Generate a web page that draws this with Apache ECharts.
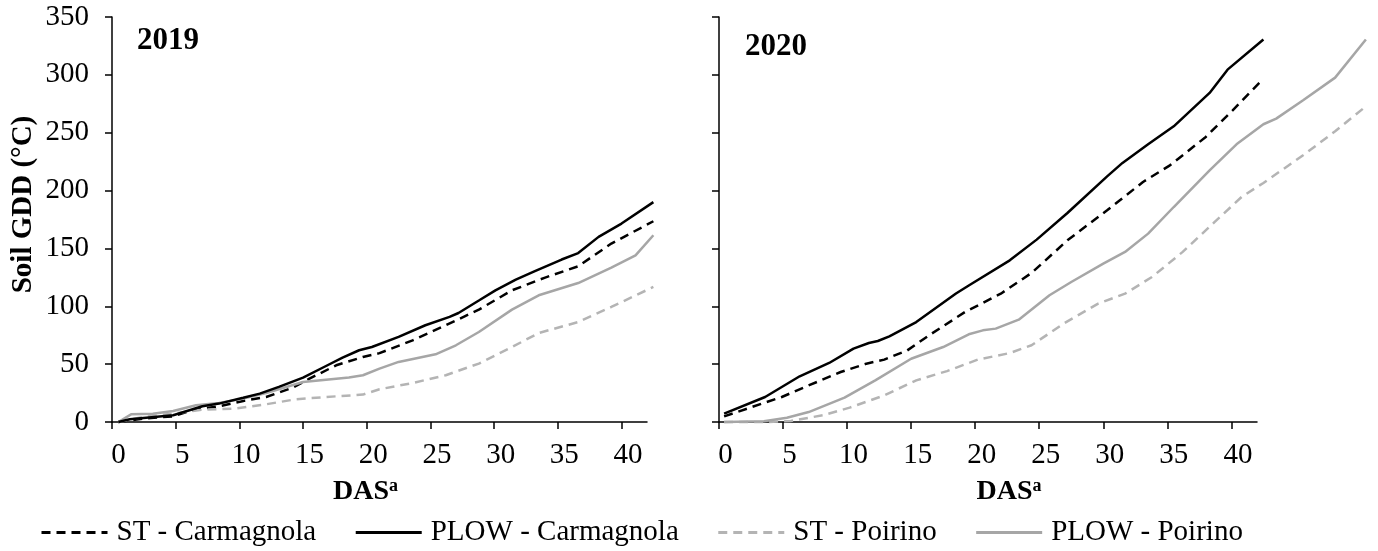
<!DOCTYPE html>
<html><head><meta charset="utf-8">
<script src="https://cdn.jsdelivr.net/npm/echarts@6/dist/echarts.min.js"></script>
<style>html,body{margin:0;padding:0;background:#fff}#c{width:1378px;height:551px}</style>
</head><body><div id="c"></div>
<script>
// ---- Data ----
const seriesNames = ['ST - Carmagnola', 'PLOW - Carmagnola', 'ST - Poirino', 'PLOW - Poirino'];
const panelTitles = ['2019', '2020'];
const xTickLabels = [0, 5, 10, 15, 20, 25, 30, 35, 40];
const yTickLabels = [0, 50, 100, 150, 200, 250, 300, 350];
const yAxisTitle = 'Soil GDD (°C)';
const xAxisTitle = 'DAS';
const xAxisSup = 'a';

// 2019
const stCarm2019Days = [0.5, 2.4, 4.8, 6.3, 8.4, 10.3, 12.1, 14.2, 15.5, 17.6, 19.7, 21.0, 23.6, 26.2, 28.8, 31.4, 34.0, 36.6, 39.2, 42.5];
const stCarm2019 = [0, 2.9, 4.9, 10.1, 13.6, 18.2, 21.6, 29.7, 37.5, 49, 56.2, 59.5, 70.6, 83.6, 97.1, 113.8, 124.8, 134.6, 154.2, 173.5];
const plowCarm2019Days = [0.5, 1.4, 4.8, 7.1, 8.4, 10.3, 11.6, 13.1, 15.0, 16.8, 18.1, 19.4, 20.4, 22.5, 24.6, 26.5, 27.2, 28.8, 30.1, 31.7, 33.2, 35.3, 36.6, 38.2, 40.0, 42.5];
const plowCarm2019 = [0, 2.3, 5.8, 13.6, 15.9, 21, 24.5, 30.3, 38.4, 48.4, 55.6, 62, 64.8, 73.5, 83.6, 90.8, 94.2, 105, 113.8, 123, 130.3, 140.4, 146, 160, 171.5, 190];
const stPoir2019Days = [0.5, 2.4, 4.8, 7.1, 9.7, 12.1, 14.4, 16.8, 19.7, 21.0, 23.6, 26.2, 28.8, 31.4, 33.5, 36.6, 39.2, 42.5];
const stPoir2019 = [0, 4.3, 7.2, 10.7, 11.6, 15.3, 19.6, 21.6, 23.7, 28.3, 33.7, 40.4, 50.5, 64.8, 76.9, 86.4, 99.4, 116.7];
const plowPoir2019Days = [0.5, 1.5, 3.2, 4.8, 6.6, 8.4, 10.3, 12.1, 15.0, 16.8, 18.6, 19.7, 21.0, 22.5, 25.4, 27.0, 28.8, 31.4, 33.5, 36.6, 39.2, 41.1, 42.5];
const plowPoir2019 = [0, 6.6, 7.2, 9.5, 14.4, 16.4, 20.2, 25.1, 34.6, 36.6, 38.4, 40.4, 46.1, 51.9, 58.5, 66.3, 77.8, 97.1, 109.5, 120.1, 133.4, 144, 161.4];

// 2020
const stCarm2020Days = [0.4, 4.9, 6.7, 9.5, 11.5, 12.9, 14.7, 16.4, 19.2, 22.0, 24.4, 27.2, 30.3, 33.1, 35.2, 38.0, 40.1, 42.5];
const stCarm2020 = [4.9, 21.6, 30.2, 43.2, 50.4, 53.9, 61.9, 74.9, 95, 110.9, 128.8, 157, 183, 207.4, 221.8, 246.3, 269.4, 296.7];
const plowCarm2020Days = [0.4, 3.6, 6.3, 8.6, 10.5, 11.7, 12.4, 13.3, 15.4, 18.5, 19.5, 22.7, 24.8, 27.2, 30.3, 31.5, 33.5, 35.5, 38.3, 39.7, 42.5];
const plowCarm2020 = [7.2, 21.6, 39.5, 51, 63.4, 68.3, 70, 74, 86.4, 111, 118, 139.7, 157.6, 180.6, 212.3, 223.9, 240, 255.5, 284.4, 304.5, 330.5];
const stPoir2020Days = [0.4, 3.9, 5.6, 8.1, 10.2, 12.9, 15.4, 17.8, 20.2, 22.7, 24.4, 26.9, 29.6, 31.7, 33.8, 36.2, 38.7, 40.8, 42.5, 45.6, 48.1, 50.5];
const stPoir2020 = [0, 0, 0.9, 5.8, 12.4, 23, 36, 44, 53.9, 59.6, 66.3, 85, 102.3, 110.9, 125.3, 147, 172.9, 194.5, 206.6, 230.5, 251.2, 272.8];
const plowPoir2020Days = [0.4, 3.5, 5.3, 7.0, 9.8, 12.2, 15.0, 17.5, 19.5, 20.6, 21.6, 23.4, 25.8, 27.5, 30.0, 31.7, 33.5, 35.5, 38.3, 40.4, 42.5, 43.5, 45.6, 48.1, 50.5];
const plowPoir2020 = [0, 0.6, 3.7, 8.6, 21, 36, 54.7, 64.8, 75.8, 79.2, 80.7, 88.4, 109.5, 121, 136.8, 147, 162.8, 185.8, 217.5, 240, 257.3, 262.2, 278, 297.6, 330.5];

// ---- Chart ----
const FONT = 'Liberation Serif';
const zip = (xs, ys) => xs.map((x, i) => [x, ys[i]]);
const styles = [
  { color: '#000000', type: [9, 6] },
  { color: '#000000', type: 'solid' },
  { color: '#b4b4b4', type: [9, 6] },
  { color: '#a6a6a6', type: 'solid' }
];
const panels = [
  [[stCarm2019Days, stCarm2019], [plowCarm2019Days, plowCarm2019], [stPoir2019Days, stPoir2019], [plowPoir2019Days, plowPoir2019]],
  [[stCarm2020Days, stCarm2020], [plowCarm2020Days, plowCarm2020], [stPoir2020Days, stPoir2020], [plowPoir2020Days, plowPoir2020]]
];

const AXIS_MAX = 42;
const axisLineStyle = { color: '#000', width: 1.5 };
const grids = [
  { left: 112, top: 17, width: 535, height: 405 },
  { left: 719, top: 17, width: 538, height: 405 }
];
// overlay plotting areas share each panel's scale but extend past the axis end so lines can run on
const overlayMax = [43, 51];
const overlayGrids = grids.map((g, gi) => ({
  left: g.left, top: g.top, height: g.height,
  width: g.width * overlayMax[gi] / AXIS_MAX
}));
const namePads = [[0, 28, 0, 0], [0, 0, 0, 42]];

const xAxes = grids.map((g, gi) => ({
  gridIndex: gi, type: 'value', min: 0, max: AXIS_MAX, interval: 5,
  axisLine: { show: true, onZero: false, lineStyle: axisLineStyle },
  axisTick: { show: true, length: 7, inside: false, customValues: xTickLabels, lineStyle: axisLineStyle },
  axisLabel: { customValues: xTickLabels, fontFamily: FONT, fontSize: 29, color: '#000', margin: 19, padding: [0, 0, 0, 13] },
  splitLine: { show: false },
  name: '{b|' + xAxisTitle + '}{s|' + xAxisSup + '}',
  nameLocation: 'middle', nameGap: 55,
  nameTextStyle: {
    padding: namePads[gi],
    rich: {
      b: { fontFamily: FONT, fontWeight: 'bold', fontSize: 28, color: '#000', lineHeight: 30 },
      s: { fontFamily: FONT, fontWeight: 'bold', fontSize: 18, color: '#000', lineHeight: 18, verticalAlign: 'top' }
    }
  }
})).concat(overlayGrids.map((g, gi) => ({
  gridIndex: 2 + gi, type: 'value', min: 0, max: overlayMax[gi], show: false
})));

const yAxes = grids.map((g, gi) => ({
  gridIndex: gi, type: 'value', min: 0, max: 350, interval: 50,
  axisLine: { show: true, lineStyle: axisLineStyle },
  axisTick: { show: true, length: 7, lineStyle: axisLineStyle },
  axisLabel: { show: gi === 0, customValues: yTickLabels, fontFamily: FONT, fontSize: 29, color: '#000', margin: 23 },
  splitLine: { show: false },
  name: gi === 0 ? yAxisTitle : '',
  nameLocation: 'middle', nameGap: 74, nameRotate: 90,
  nameTextStyle: { fontFamily: FONT, fontWeight: 'bold', fontSize: 29, color: '#000', padding: [0, 0, 0, 30] }
})).concat(overlayGrids.map((g, gi) => ({
  gridIndex: 2 + gi, type: 'value', min: 0, max: 350, show: false
})));

const series = [];
panels.forEach((p, gi) => {
  p.forEach((d, si) => {
    series.push({
      name: seriesNames[si], type: 'line', xAxisIndex: 2 + gi, yAxisIndex: 2 + gi,
      data: zip(d[0], d[1]), symbol: 'none', showSymbol: false, clip: false,
      lineStyle: { color: styles[si].color, width: 2.5, type: styles[si].type },
      itemStyle: { color: styles[si].color },
      z: si === 1 ? 4 : 3
    });
  });
});

const chart = echarts.init(document.getElementById('c'), null, { renderer: 'canvas' });
chart.setOption({
  animation: false,
  backgroundColor: '#fff',
  title: [
    { text: panelTitles[0], left: 137, top: 25, padding: 0, textStyle: { fontFamily: FONT, fontWeight: 'bold', fontSize: 31, color: '#000' } },
    { text: panelTitles[1], left: 745, top: 31, padding: 0, textStyle: { fontFamily: FONT, fontWeight: 'bold', fontSize: 31, color: '#000' } }
  ],
  legend: {
    data: seriesNames, left: 40, top: 518, padding: 0,
    itemWidth: 66, itemHeight: 10, itemGap: 38,
    itemStyle: { opacity: 0 },
    lineStyle: { width: 3 },
    textStyle: { fontFamily: FONT, fontSize: 29, color: '#000', padding: [0, 0, 0, 4] }
  },
  grid: grids.concat(overlayGrids),
  xAxis: xAxes,
  yAxis: yAxes,
  series: series
});
</script>
</body></html>
